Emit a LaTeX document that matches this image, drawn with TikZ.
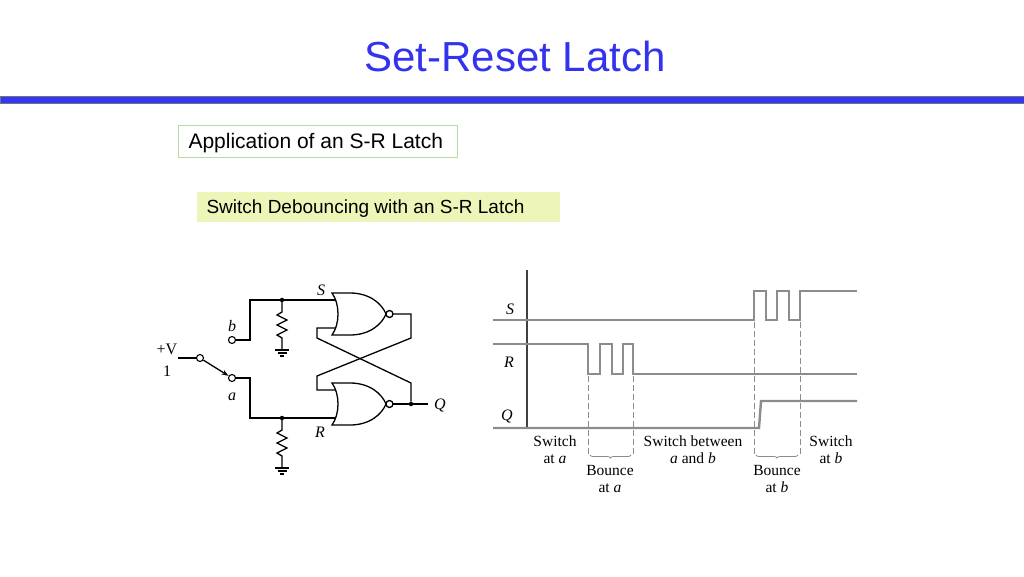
\documentclass[tikz,border=0pt]{standalone}
\usepackage{fontspec}
\setmainfont{Liberation Serif}
\setsansfont{Liberation Sans}
\usetikzlibrary{calc,decorations.pathreplacing,arrows.meta}
\definecolor{titleblue}{HTML}{3333EE}
\definecolor{barblue}{HTML}{3535F5}
\definecolor{boxgreen}{HTML}{B8DCA0}
\definecolor{boxfill}{HTML}{EEF5B8}
\definecolor{sig}{HTML}{8C8C8C}
\tikzstyle{wire}=[line width=1.3pt]
\tikzstyle{trace}=[sig, line width=2.4pt]
\tikzstyle{guide}=[sig, dashed, line width=1pt, dash pattern=on 6pt off 3pt]
\tikzstyle{dot}=[circle, fill, inner sep=0pt, minimum size=4.5pt]
\tikzstyle{term}=[circle, draw, fill=white, inner sep=0pt, minimum size=7pt, line width=1.1pt]
\tikzstyle{lbl}=[font=\fontsize{16}{16}\selectfont\itshape, inner sep=0pt]
\tikzstyle{phase}=[font=\fontsize{15.5}{17}\selectfont, align=center, inner sep=0pt]
\tikzset{
  norgate/.pic={
    \draw[wire] (0,-21) .. controls (8,-10) and (8,10) .. (0,21)
      -- (18,21) .. controls (38,21) and (50,10) .. (54,0)
      .. controls (50,-10) and (38,-21) .. (18,-21) -- cycle;
    \draw[wire] (57.5,0) circle (3.5);
    \coordinate (-out) at (61,0);
    \coordinate (-inA) at (4,-14);
    \coordinate (-inB) at (4,14);
  },
  resistor/.pic={
    \draw[wire] (0,0) -- (0,12) -- (-5,15) -- (5,20) -- (-5,25) -- (5,30)
      -- (-5,35) -- (0,38) -- (0,50);
    \draw[wire] (-7,50) -- (7,50) (-4.5,53) -- (4.5,53) (-2,56) -- (2,56);
  }
}
\begin{document}
\begin{tikzpicture}[x=1pt,y=-1pt]
\useasboundingbox (0,0) rectangle (1024,576);

% heading
\node[titleblue, font=\sffamily\fontsize{42}{42}\selectfont] (title) at (515,56) {Set-Reset Latch};
\draw[fill=barblue, draw=black!55, line width=0.8pt] (0,96) rectangle (1024,103);

\draw[boxgreen, fill=white, line width=1pt] (178,125) rectangle (457,157);
\node[font=\sffamily\fontsize{21}{21}\selectfont, anchor=west] (app) at (185,143) {Application of an S-R Latch};
\fill[boxfill] (197,192) rectangle (560,222);
\node[font=\sffamily\fontsize{19}{19}\selectfont, anchor=west] (deb) at (203,209) {Switch Debouncing with an S-R Latch};

% circuit
\pic (g1) at (332,314) {norgate};
\pic (g2) at (332,404) {norgate};
\node[term] (tb) at (232,340) {};
\node[term] (ta) at (232,378) {};
\node[term] (tp) at (200,358) {};
\coordinate (vin) at (178,358);
\node[dot] (js) at (282,300) {};
\node[dot] (jr) at (282,418) {};
\node[dot] (jq) at (411,404) {};
\coordinate (qend) at (428,404);
\pic at (js) {resistor};
\pic at (jr) {resistor};

\draw[wire] (vin) -- (tp);
\draw[wire, -{Stealth[length=7pt,width=5pt]}] (tp) -- (ta);
\draw[wire] (tb) -- (250,340) -- (250,300) -- (js) -- (g1-inA -| js) -- (g1-inA);
\draw[wire] (ta) -- (250,378) -- (250,418) -- (jr) -- (g2-inB);
\draw[wire] (g1-out) -- (411,314) -- (411,338) -- (317,376) -- (317,390) -- (g2-inA);
\draw[wire] (g2-out) -- (jq) -- (qend);
\draw[wire] (jq) -- (411,383) -- (317,338) -- (317,328) -- (g1-inB);

\node[lbl] (lS) at (321,290) {S};
\node[lbl] (lR) at (320,432) {R};
\node[lbl] (lQ) at (440,405) {Q};
\node[lbl] (lb) at (232,326) {b};
\node[lbl] (la) at (232,397) {a};
\node[font=\fontsize{16}{16}\selectfont, inner sep=0pt] (lv) at (167,349) {+V};
\node[font=\fontsize{16}{16}\selectfont, inner sep=0pt] (l1) at (167,371) {1};

% timing diagram
\draw[line width=1.4pt, black!75] (527,270) -- (527,429);
\draw[trace] (493,320) -- (754,320) -- (754,291) -- (766,291) -- (766,320)
  -- (777,320) -- (777,291) -- (789,291) -- (789,320) -- (800,320) -- (800,291) -- (857,291);
\draw[trace] (493,344) -- (588,344) -- (588,374) -- (600,374) -- (600,344)
  -- (612,344) -- (612,374) -- (623,374) -- (623,344) -- (633,344) -- (633,374) -- (857,374);
\draw[trace] (493,428) -- (759,428) -- (761,401) -- (857,401);
\draw[guide] (588,376) -- (588,455) (633,376) -- (633,455);
\draw[guide] (754,322) -- (754,455) (800,322) -- (800,455);
\draw[sig, line width=0.8pt, decorate, decoration={brace, mirror, amplitude=3pt}] (590,455) -- (631,455);
\draw[sig, line width=0.8pt, decorate, decoration={brace, mirror, amplitude=3pt}] (756,455) -- (798,455);

\node[lbl] (tS) at (510,309) {S};
\node[lbl] (tR) at (509,362) {R};
\node[lbl] (tQ) at (507,416) {Q};
\node[phase] (c1) at (555,450) {Switch\\at \textit{a}};
\node[phase] (c2) at (610,479) {Bounce\\at \textit{a}};
\node[phase] (c3) at (693,450) {Switch between\\\textit{a} and \textit{b}};
\node[phase] (c4) at (777,479) {Bounce\\at \textit{b}};
\node[phase] (c5) at (831,450) {Switch\\at \textit{b}};
\end{tikzpicture}
\end{document}
